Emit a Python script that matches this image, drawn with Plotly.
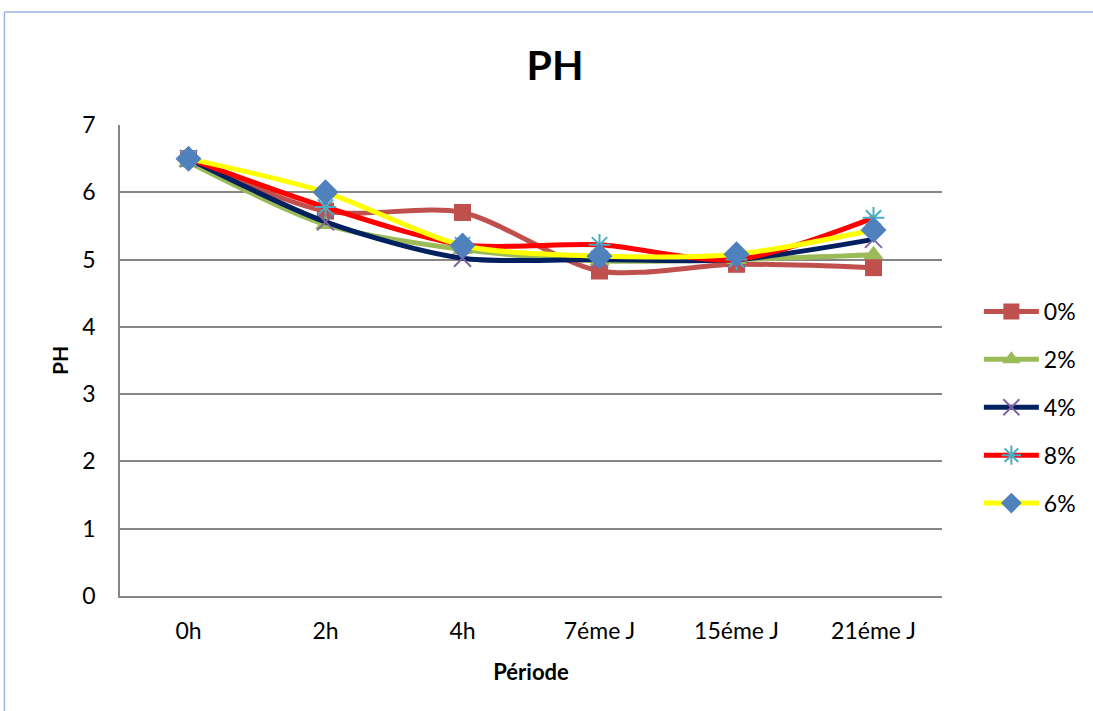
import plotly.graph_objects as go

# Sampling periods
periodes = ["0h", "2h", "4h", "7éme J", "15éme J", "21éme J"]

# pH values for each concentration
ph_0 = [6.50, 5.72, 5.70, 4.83, 4.93, 4.88]
ph_2 = [6.45, 5.52, 5.15, 4.98, 5.00, 5.07]
ph_4 = [6.50, 5.56, 5.02, 5.00, 5.00, 5.30]
ph_8 = [6.50, 5.78, 5.22, 5.22, 5.00, 5.62]
ph_6 = [6.50, 6.00, 5.21, 5.05, 5.08, 5.44]

series = [
    ("0%", ph_0, "#C0504D", dict(symbol="square", size=17, color="#C0504D")),
    ("2%", ph_2, "#9BBB59", dict(symbol="triangle-up", size=18, color="#9BBB59")),
    ("4%", ph_4, "#002060", dict(symbol="x-thin-open", size=17, color="#8064A2",
                                 line=dict(color="#8064A2", width=2))),
    ("8%", ph_8, "#FF0000", dict(symbol="asterisk-open", size=18, color="#4BACC6",
                                 line=dict(color="#4BACC6", width=2))),
    ("6%", ph_6, "#FFFF00", dict(symbol="diamond", size=20, color="#4F81BD")),
]

fig = go.Figure()
for name, vals, lc, mk in series:
    fig.add_trace(go.Scatter(
        x=periodes, y=vals, name=name, legendgroup=name, mode="lines+markers",
        line=dict(color=lc, width=5, shape="spline", smoothing=0.8),
        marker=mk,
    ))

W, H = 1093, 711
L, R, T, B = 120, 945, 125, 596

def px(x):
    return (x - L) / (R - L)

def py(y):
    return (B - y) / (B - T)

font = "Lato, 'Open Sans', sans-serif"

fig.update_layout(
    width=W, height=H,
    margin=dict(l=L, r=W - R, t=T, b=H - B),
    paper_bgcolor="white", plot_bgcolor="white",
    font=dict(family=font, size=23, color="#000000"),
    title=dict(text="<b>PH</b>", x=555 / W, xanchor="center",
               y=1 - 66 / H, yanchor="middle", font=dict(size=41)),
    xaxis=dict(
        type="category", range=[-0.5, 5.5],
        showgrid=False, showline=True, linecolor="#868686", linewidth=1.5,
        ticks="", tickfont=dict(size=23), ticklabelstandoff=14,
        title=dict(text="<b>Période</b>", font=dict(size=22), standoff=21),
    ),
    yaxis=dict(
        range=[0, 7], dtick=1, showgrid=True, gridcolor="#868686", gridwidth=1.5,
        showline=True, linecolor="#868686", linewidth=1.5, zeroline=False,
        ticks="", tickfont=dict(size=23), ticklabelstandoff=18,
        title=dict(text="<b>PH</b>", font=dict(size=21), standoff=8),
    ),
    legend=dict(
        x=px(982), xanchor="left", y=py(290), yanchor="top",
        font=dict(size=23), itemwidth=55, tracegroupgap=15,
        bgcolor="rgba(0,0,0,0)",
    ),
    shapes=[
        dict(type="line", xref="paper", yref="paper",
             x0=px(4), x1=px(1100), y0=py(12), y1=py(12),
             line=dict(color="#9DB6E3", width=1.5)),
        dict(type="line", xref="paper", yref="paper",
             x0=px(4), x1=px(4), y0=py(12), y1=py(720),
             line=dict(color="#9DB6E3", width=1.5)),
    ],
)

fig.write_html("out.html")
